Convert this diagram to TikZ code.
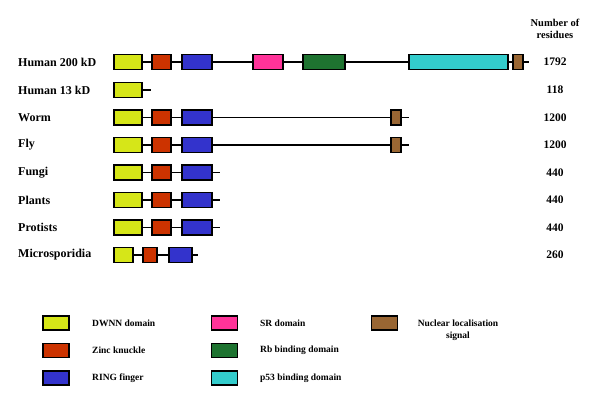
\documentclass[tikz,border=0pt]{standalone}
\usepackage{fontspec}
\setmainfont{Liberation Serif}
\usetikzlibrary{positioning}

\begin{document}
\begin{tikzpicture}[x=1pt,y=-1pt,
    dom/.style={draw=black,line width=1.3pt,inner sep=0pt,minimum height=15pt},
    dwnn/.style={dom,fill={rgb,255:red,214;green,230;blue,24},minimum width=28pt},
    zinc/.style={dom,fill={rgb,255:red,204;green,51;blue,0},minimum width=19pt},
    ring/.style={dom,fill={rgb,255:red,51;green,51;blue,204},minimum width=30pt},
    srdom/.style={dom,fill={rgb,255:red,255;green,51;blue,153},minimum width=30pt},
    rbdom/.style={dom,fill={rgb,255:red,30;green,115;blue,48},minimum width=42pt},
    pdom/.style={dom,fill={rgb,255:red,51;green,204;blue,204},minimum width=99pt},
    nls/.style={dom,fill={rgb,255:red,153;green,102;blue,51},minimum width=10pt},
    keybox/.style={dom,minimum width=26pt,minimum height=14pt},
    link/.style={line width=1.3pt},
    rowname/.style={anchor=west,inner sep=0pt,font=\fontsize{12}{14}\selectfont\bfseries},
    resnum/.style={inner sep=0pt,font=\fontsize{11.5}{14}\selectfont\bfseries},
    lgd/.style={anchor=west,inner sep=0pt,font=\fontsize{9.5}{12}\selectfont\bfseries}]
            \useasboundingbox (0,0) rectangle (600,416);
            % header
            \node (head) at (555,29) [resnum,align=center,font=\fontsize{10.5}{12.5}\selectfont\bfseries] {Number of\\residues};
            % Human 200 kD
            \node (n1) at (18,62) [rowname] {Human 200 kD};
            \node (y1) at (128,62) [dwnn] {};
            \node (r1) at (161.5,62) [zinc] {};
            \node (b1) at (197,62) [ring] {};
            \node (s1) at (268,62) [srdom] {};
            \node (g1) at (324,62) [rbdom] {};
            \node (c1) at (458.5,62) [pdom] {};
            \node (k1) at (518,62) [nls] {};
            \coordinate (e1) at (529,62);
            \node (m1) at (555,62) [resnum] {1792};
            \draw[link] (y1) -- (r1) (r1) -- (b1) (b1) -- (s1) (s1) -- (g1) (g1) -- (c1) (c1) -- (k1) (k1) -- (e1);
            % Human 13 kD
            \node (n2) at (18,90) [rowname] {Human 13 kD};
            \node (y2) at (128,90) [dwnn] {};
            \coordinate (e2) at (151,90);
            \node (m2) at (555,90) [resnum] {118};
            \draw[link] (y2) -- (e2);
            % Worm
            \node (n3) at (18,117.5) [rowname] {Worm};
            \node (y3) at (128,117.5) [dwnn] {};
            \node (r3) at (161.5,117.5) [zinc] {};
            \node (b3) at (197,117.5) [ring] {};
            \node (k3) at (396,117.5) [nls] {};
            \coordinate (e3) at (409,117.5);
            \node (m3) at (555,117.5) [resnum] {1200};
            \draw[link] (y3) -- (r3) (r3) -- (b3) (b3) -- (k3) (k3) -- (e3);
            % Fly
            \node (n4) at (18,145) [rowname] {Fly};
            \node (y4) at (128,145) [dwnn] {};
            \node (r4) at (161.5,145) [zinc] {};
            \node (b4) at (197,145) [ring] {};
            \node (k4) at (396,145) [nls] {};
            \coordinate (e4) at (409,145);
            \node (m4) at (555,145) [resnum] {1200};
            \draw[link] (y4) -- (r4) (r4) -- (b4) (b4) -- (k4) (k4) -- (e4);
            % Fungi
            \node (n5) at (18,172.5) [rowname] {Fungi};
            \node (y5) at (128,172.5) [dwnn] {};
            \node (r5) at (161.5,172.5) [zinc] {};
            \node (b5) at (197,172.5) [ring] {};
            \coordinate (e5) at (220,172.5);
            \node (m5) at (555,172.5) [resnum] {440};
            \draw[link] (y5) -- (r5) (r5) -- (b5) (b5) -- (e5);
            % Plants
            \node (n6) at (18,200) [rowname] {Plants};
            \node (y6) at (128,200) [dwnn] {};
            \node (r6) at (161.5,200) [zinc] {};
            \node (b6) at (197,200) [ring] {};
            \coordinate (e6) at (220,200);
            \node (m6) at (555,200) [resnum] {440};
            \draw[link] (y6) -- (r6) (r6) -- (b6) (b6) -- (e6);
            % Protists
            \node (n7) at (18,227.5) [rowname] {Protists};
            \node (y7) at (128,227.5) [dwnn] {};
            \node (r7) at (161.5,227.5) [zinc] {};
            \node (b7) at (197,227.5) [ring] {};
            \coordinate (e7) at (220,227.5);
            \node (m7) at (555,227.5) [resnum] {440};
            \draw[link] (y7) -- (r7) (r7) -- (b7) (b7) -- (e7);
            % Microsporidia
            \node (n8) at (18,255) [rowname] {Microsporidia};
            \node (y8) at (123.5,255) [dwnn,minimum width=19pt] {};
            \node (r8) at (150,255) [zinc,minimum width=14pt] {};
            \node (b8) at (180.5,255) [ring,minimum width=23pt] {};
            \coordinate (e8) at (198,255);
            \node (m8) at (555,255) [resnum] {260};
            \draw[link] (y8) -- (r8) (r8) -- (b8) (b8) -- (e8);
            % legend
            \node (ky) at (56,323) [keybox,fill={rgb,255:red,214;green,230;blue,24}] {};
            \node (ly) at (92,323) [lgd] {DWNN domain};
            \node (kr) at (56,350.5) [keybox,fill={rgb,255:red,204;green,51;blue,0}] {};
            \node (lr) at (92,350.5) [lgd] {Zinc knuckle};
            \node (kb) at (56,378) [keybox,fill={rgb,255:red,51;green,51;blue,204}] {};
            \node (lb) at (92,378) [lgd] {RING finger};
            \node (ks) at (224.5,323) [keybox,fill={rgb,255:red,255;green,51;blue,153}] {};
            \node (ls) at (260,323) [lgd] {SR domain};
            \node (kg) at (224.5,350.5) [keybox,fill={rgb,255:red,30;green,115;blue,48}] {};
            \node (lg) at (260,350.5) [lgd] {Rb binding domain};
            \node (kc) at (224.5,378) [keybox,fill={rgb,255:red,51;green,204;blue,204}] {};
            \node (lc) at (260,378) [lgd] {p53 binding domain};
            \node (kk) at (384.5,323) [keybox,fill={rgb,255:red,153;green,102;blue,51}] {};
            \node (lk) at (458,330) [lgd,anchor=center,align=center] {Nuclear localisation\\signal};
        \end{tikzpicture}
\end{document}
